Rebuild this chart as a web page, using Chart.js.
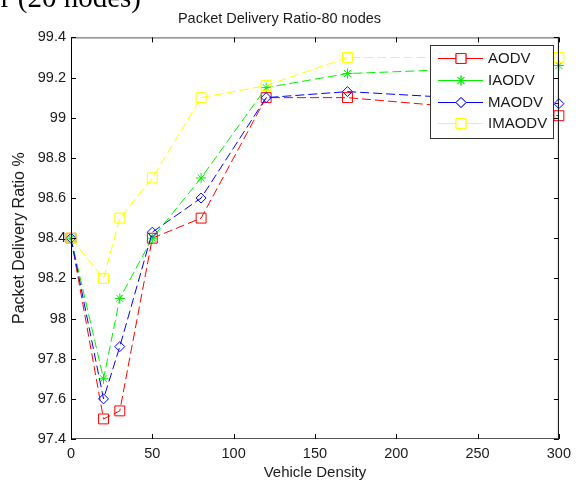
<!DOCTYPE html>
<html>
<head>
<meta charset="utf-8">
<script src="https://cdn.jsdelivr.net/npm/chart.js@4/dist/chart.umd.min.js"></script>
<style>
	html, body { margin: 0; padding: 0; background: #ffffff; }
	#wrap { width: 577px; height: 483px; }
</style>
</head>
<body>
<div id="wrap"><canvas id="c" width="577" height="483"></canvas></div>
<script>
const density = [0, 20, 30, 50, 80, 120, 170, 300];
const aodv = [98.4, 97.5, 97.54, 98.4, 98.5, 99.1, 99.1, 99.01];
const iaodv = [98.4, 97.7, 98.1, 98.4, 98.7, 99.15, 99.22, 99.26];
const maodv = [98.4, 97.6, 97.86, 98.43, 98.6, 99.1, 99.13, 99.07];
const imaodv = [98.4, 98.2, 98.5, 98.7, 99.1, 99.16, 99.3, 99.3];

const xTicks = [0, 50, 100, 150, 200, 250, 300];
const xTickLabels = ['0', '50', '100', '150', '200', '250', '300'];
const yTicks = [97.4, 97.6, 97.8, 98, 98.2, 98.4, 98.6, 98.8, 99, 99.2, 99.4];
const yTickLabels = ['97.4', '97.6', '97.8', '98', '98.2', '98.4', '98.6', '98.8', '99', '99.2', '99.4'];

const font = "'Liberation Sans', Arial, sans-serif";
const textColor = '#1a1a1a';

const series = [
	{label: 'AODV', values: aodv, color: '#ff0000', style: 'rect', radius: 7, order: 3},
	{label: 'IAODV', values: iaodv, color: '#00f000', style: 'star', radius: 5, order: 2},
	{label: 'MAODV', values: maodv, color: '#0000ff', style: 'rectRot', radius: 5, order: 1},
	{label: 'IMAODV', values: imaodv, color: '#ffff00', style: 'rect', radius: 7, order: 0},
];

const datasets = series.map(s => ({
	label: s.label,
	data: density.map((x, i) => ({x: x, y: s.values[i]})),
	borderColor: s.color,
	backgroundColor: s.color,
	borderWidth: 1,
	borderDash: [9, 4],
	pointStyle: s.style,
	pointRadius: s.radius,
	pointHoverRadius: s.radius,
	pointBorderColor: s.color,
	pointBackgroundColor: 'rgba(0,0,0,0)',
	pointBorderWidth: 1,
	tension: 0,
	clip: false,
	order: s.order,
}));

// matlab style box with inward ticks, cut caption on top, legend inside
const decor = {
	id: 'decor',
	afterDraw: chart => {
		const ctx = chart.ctx;
		const a = chart.chartArea;
		const xs = chart.scales.x;
		const ys = chart.scales.y;
		ctx.save();

		ctx.lineWidth = 1;
		ctx.strokeStyle = '#000000';
		ctx.beginPath();
		ctx.moveTo(a.left + 0.5, a.top);
		ctx.lineTo(a.left + 0.5, a.bottom);
		ctx.moveTo(a.right - 0.5, a.top);
		ctx.lineTo(a.right - 0.5, a.bottom);
		ctx.stroke();
		ctx.strokeStyle = '#555555';
		ctx.beginPath();
		ctx.moveTo(a.left, a.top + 0.5);
		ctx.lineTo(a.right, a.top + 0.5);
		ctx.moveTo(a.left, a.bottom - 0.5);
		ctx.lineTo(a.right, a.bottom - 0.5);
		ctx.stroke();

		ctx.strokeStyle = '#000000';
		ctx.beginPath();
		for (const t of xTicks) {
			const px = Math.round(xs.getPixelForValue(t)) + 0.5;
			ctx.moveTo(px, a.bottom);
			ctx.lineTo(px, a.bottom - 5);
			ctx.moveTo(px, a.top);
			ctx.lineTo(px, a.top + 5);
		}
		for (const t of yTicks) {
			const py = Math.round(ys.getPixelForValue(t)) + 0.5;
			ctx.moveTo(a.left, py);
			ctx.lineTo(a.left + 5, py);
			ctx.moveTo(a.right, py);
			ctx.lineTo(a.right - 5, py);
		}
		ctx.stroke();

		// caption fragment of the previous figure, cut by the page edge
		ctx.fillStyle = '#000000';
		ctx.font = "29px 'Liberation Serif', serif";
		ctx.textAlign = 'right';
		ctx.textBaseline = 'alphabetic';
		ctx.fillText('r (20 nodes)', 141, 7);

		// legend box
		const bx = 430, by = 45, bw = 123, bh = 93;
		ctx.fillStyle = '#ffffff';
		ctx.fillRect(bx, by, bw, bh);
		ctx.strokeStyle = '#333333';
		ctx.strokeRect(bx + 0.5, by + 0.5, bw, bh);
		const rows = [58, 80, 102, 123];
		chart.data.datasets.forEach((ds, i) => {
			const y = rows[i] + 0.5;
			ctx.strokeStyle = ds.borderColor;
			ctx.setLineDash([]);
			ctx.beginPath();
			ctx.moveTo(438, y);
			ctx.lineTo(483, y);
			ctx.stroke();
			ctx.fillStyle = '#ffffff';
			Chart.helpers.drawPoint(ctx, {
				pointStyle: ds.pointStyle,
				radius: ds.pointRadius,
				borderWidth: 1,
				rotation: 0,
			}, 461, y);
			ctx.fill();
			ctx.stroke();
			ctx.fillStyle = textColor;
			ctx.font = '15px ' + font;
			ctx.textAlign = 'left';
			ctx.textBaseline = 'middle';
			ctx.fillText(ds.label, 488, rows[i] + 1);
		});
		ctx.restore();
	}
};

new Chart(document.getElementById('c'), {
	type: 'line',
	data: {datasets: datasets},
	plugins: [decor],
	options: {
		responsive: false,
		animation: false,
		layout: {padding: {left: 0, right: 18, top: 0, bottom: 0}},
		plugins: {
			legend: {display: false},
			tooltip: {enabled: false},
			title: {
				display: true,
				text: 'Packet Delivery Ratio-80 nodes',
				color: textColor,
				font: {family: font, size: 14.5, weight: 'normal'},
				padding: {top: 10, bottom: 10},
			},
		},
		scales: {
			x: {
				type: 'linear',
				min: 0,
				max: 300,
				afterBuildTicks: scale => { scale.ticks = xTicks.map(v => ({value: v})); },
				afterFit: scale => { scale.height = 44; },
				grid: {display: false, drawTicks: false},
				border: {display: false},
				ticks: {
					color: textColor,
					font: {family: font, size: 14.5},
					padding: 6,
					maxRotation: 0,
					callback: (v, i) => xTickLabels[i],
				},
				title: {
					display: true,
					text: 'Vehicle Density',
					color: textColor,
					font: {family: font, size: 15},
					padding: {top: 0, bottom: 1},
				},
			},
			y: {
				type: 'linear',
				min: 97.4,
				max: 99.4,
				afterBuildTicks: scale => { scale.ticks = yTicks.map(v => ({value: v})); },
				afterFit: scale => { scale.width = 71; },
				grid: {display: false, drawTicks: false},
				border: {display: false},
				ticks: {
					color: textColor,
					font: {family: font, size: 14.5},
					padding: 5,
					callback: (v, i) => yTickLabels[i],
				},
				title: {
					display: true,
					text: 'Packet Delivery Ratio %',
					color: textColor,
					font: {family: font, size: 16},
					padding: {top: 10, bottom: 0},
				},
			},
		},
	},
});
</script>
</body>
</html>
